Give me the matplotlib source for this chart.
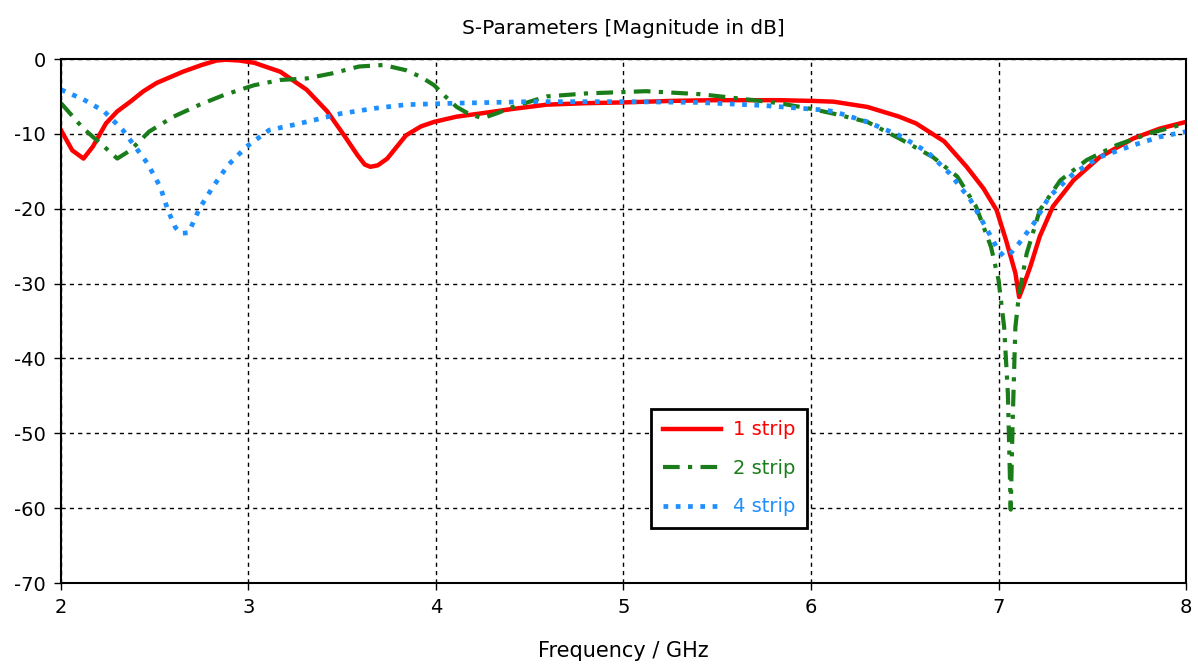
import numpy as np
import matplotlib
matplotlib.use("Agg")
import matplotlib.pyplot as plt

plt.rcParams["axes.unicode_minus"] = False

# ── S11 traces (frequency in GHz, magnitude in dB) ─────────────────────
f_1strip = [2.00, 2.06, 2.12, 2.17, 2.24, 2.30, 2.37, 2.44, 2.51, 2.65, 2.75, 2.83, 2.88, 2.95,
            3.03, 3.17, 3.31, 3.42, 3.51, 3.58, 3.62, 3.65, 3.69, 3.74, 3.84, 3.92, 3.99,
            4.11, 4.23, 4.40, 4.59, 4.80, 5.00, 5.25, 5.48, 5.83, 6.01, 6.12, 6.30, 6.47,
            6.56, 6.71, 6.83, 6.92, 6.99, 7.04, 7.09, 7.11, 7.13, 7.17, 7.22, 7.29, 7.40,
            7.54, 7.72, 7.86, 8.00]
s_1strip = [-9.5, -12.2, -13.3, -11.7, -8.6, -7.0, -5.7, -4.3, -3.2, -1.7, -0.8, -0.2, -0.1,
            -0.2, -0.5, -1.7, -4.1, -7.0, -10.2, -12.8, -14.1, -14.4, -14.2, -13.3, -10.2,
            -9.0, -8.4, -7.7, -7.3, -6.7, -6.1, -5.9, -5.8, -5.6, -5.5, -5.5, -5.6, -5.7,
            -6.4, -7.7, -8.6, -11.0, -14.4, -17.3, -20.2, -24.2, -28.6, -31.8, -30.5, -27.7,
            -23.7, -19.7, -16.2, -13.1, -10.6, -9.3, -8.4]

f_2strip = [2.00, 2.06, 2.12, 2.23, 2.30, 2.37, 2.47, 2.60, 2.74, 2.87, 3.03, 3.17, 3.31,
            3.45, 3.59, 3.72, 3.84, 3.92, 3.99, 4.05, 4.11, 4.18, 4.25, 4.33, 4.41, 4.59,
            4.80, 5.12, 5.41, 5.66, 5.83, 6.01, 6.12, 6.30, 6.47, 6.65, 6.78, 6.88, 6.96,
            7.00, 7.03, 7.05, 7.065, 7.075, 7.085, 7.09, 7.11, 7.15, 7.22, 7.33, 7.47, 7.63,
            7.81, 8.00]
s_2strip = [-5.9, -7.6, -9.3, -11.7, -13.3, -12.2, -9.7, -7.7, -6.1, -4.8, -3.5, -2.8, -2.6,
            -1.9, -1.0, -0.8, -1.5, -2.4, -3.5, -5.0, -6.4, -7.4, -7.9, -7.2, -6.4, -5.0,
            -4.6, -4.3, -4.7, -5.4, -5.9, -6.7, -7.3, -8.4, -10.6, -13.1, -15.7, -19.7, -25.1,
            -29.5, -35.8, -44.7, -60.2, -49.0, -40.0, -35.8, -31.3, -26.0, -20.2, -16.2,
            -13.5, -11.5, -9.9, -8.6]

f_4strip = [2.00, 2.12, 2.23, 2.33, 2.46, 2.53, 2.57, 2.61, 2.64, 2.68, 2.74, 2.81, 2.89,
            2.99, 3.11, 3.24, 3.36, 3.49, 3.67, 3.84, 4.11, 4.50, 5.00, 5.40, 5.48, 5.74,
            6.06, 6.12, 6.30, 6.47, 6.62, 6.74, 6.85, 6.95, 7.00, 7.03, 7.07, 7.11, 7.19,
            7.27, 7.40, 7.54, 7.72, 7.86, 8.00]
s_4strip = [-4.1, -5.4, -7.0, -9.5, -13.9, -17.1, -20.2, -22.5, -23.3, -23.2, -19.9, -17.1,
            -14.2, -11.7, -9.5, -8.8, -8.1, -7.3, -6.6, -6.1, -5.9, -5.7, -5.7, -5.8, -5.9,
            -6.2, -6.8, -7.0, -8.4, -10.2, -12.4, -15.3, -18.8, -23.3, -25.6, -26.4, -25.8,
            -24.6, -21.9, -18.4, -15.3, -13.1, -11.5, -10.4, -9.7]

labels = ["1 strip", "2 strip", "4 strip"]
colors = ["#ff0000", "#1a7d1a", "#1e8fff"]

# ── Figure ─────────────────────────────────────────────────────────────
fig = plt.figure(figsize=(11.98, 6.66), dpi=100)
ax = fig.add_axes([0.0509, 0.1246, 0.9391, 0.7868])

ax.plot(f_1strip, s_1strip, color=colors[0], lw=3.2, label=labels[0])
ax.plot(f_2strip, s_2strip, color=colors[1], lw=3.0, dashes=(4, 2, 1, 2), label=labels[1])
ax.plot(f_4strip, s_4strip, color=colors[2], lw=3.4, dashes=(1, 1.6), label=labels[2])

ax.set_xlim(2, 8)
ax.set_ylim(-70, 0)
ax.set_xticks(np.arange(2, 9, 1))
ax.set_yticks(np.arange(-70, 1, 10))
ax.grid(True, color="black", ls=(0, (3, 3)), lw=1.0)
ax.tick_params(direction="out", length=5, width=1, labelsize=14, colors="black", pad=6)
for s in ax.spines.values():
    s.set_linewidth(1.5)

ax.set_title("S-Parameters [Magnitude in dB]", fontsize=14.5, pad=18)
ax.set_xlabel("Frequency / GHz", fontsize=15, labelpad=17)

leg = ax.legend(loc="upper left", bbox_to_anchor=(0.516, 0.351), fontsize=14,
                frameon=True, fancybox=False, edgecolor="black", framealpha=1,
                handlelength=3.0, borderpad=0.6, labelspacing=1.0, handletextpad=0.6)
leg.get_frame().set_linewidth(2)
for txt, c in zip(leg.get_texts(), colors):
    txt.set_color(c)

fig.savefig("out.png", dpi=100)
